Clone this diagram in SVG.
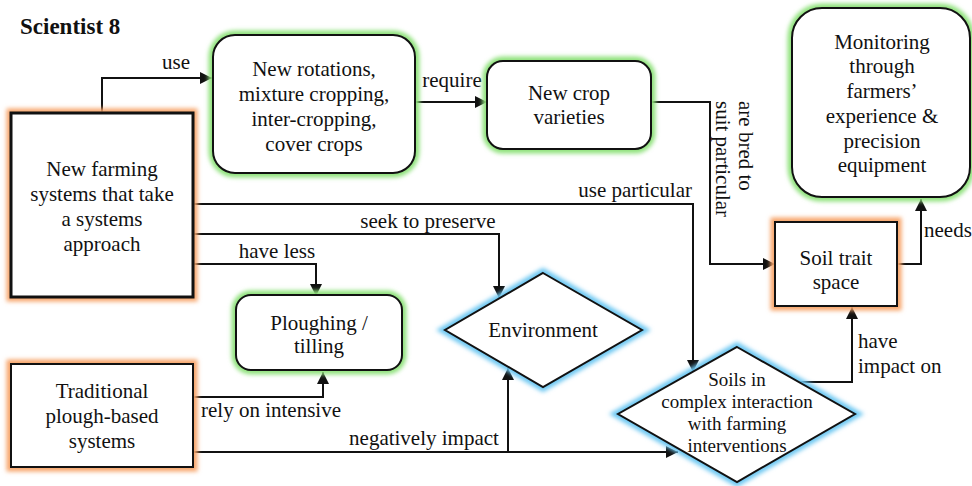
<svg xmlns="http://www.w3.org/2000/svg" width="972" height="486" viewBox="0 0 972 486">
<style>
.c{text-anchor:middle}
.s{font-size:19px}
.node{fill:#fff;stroke:#111;stroke-width:2}
.thick{stroke-width:3}
.go{fill:none;stroke:#f7a56b;stroke-width:9;filter:url(#blur)}
.gg{fill:none;stroke:#8fe27c;stroke-width:9;filter:url(#blur)}
.gb{fill:none;stroke:#6ec8f2;stroke-width:9;filter:url(#blur)}
.e{fill:none;stroke:#111;stroke-width:2}
</style>
<defs>
<filter id="blur" x="-20%" y="-20%" width="140%" height="140%"><feGaussianBlur stdDeviation="2.2"/></filter>
<marker id="a" viewBox="0 0 10 10" refX="10" refY="5" markerWidth="12" markerHeight="12" markerUnits="userSpaceOnUse" orient="auto"><path d="M0,0L10,5L0,10z" fill="#111"/></marker>
</defs>
<rect width="972" height="486" fill="#fff"/>
<g font-family="'Liberation Serif', 'Times New Roman', serif" font-size="21" fill="#111">
<text x="20" y="34" font-weight="bold" font-size="23">Scientist 8</text>

<g id="connectors">
<path class="e" d="M102,113V78H212" marker-end="url(#a)"/>
<text x="176" y="69" class="c">use</text>
<path class="e" d="M415,102H487" marker-end="url(#a)"/>
<text x="452" y="87" class="c">require</text>
<path class="e" d="M651,102H710V264H775" marker-end="url(#a)"/>
<text transform="translate(739,101) rotate(90)">are bred to</text>
<text transform="translate(716,101) rotate(90)">suit particular</text>
<path class="e" d="M897,264H921V199" marker-end="url(#a)"/>
<text x="924" y="237">needs</text>
<path class="e" d="M193,204H693V372" marker-end="url(#a)"/>
<text x="692" y="197" text-anchor="end">use particular</text>
<path class="e" d="M193,234H499V298" marker-end="url(#a)"/>
<text x="428" y="228" class="c">seek to preserve</text>
<path class="e" d="M193,264H316V296" marker-end="url(#a)"/>
<text x="277" y="258" class="c">have less</text>
<path class="e" d="M193,397H323V372" marker-end="url(#a)"/>
<text x="271" y="417" class="c">rely on intensive</text>
<path class="e" d="M193,452H678" marker-end="url(#a)"/>
<path class="e" d="M508,452V368" marker-end="url(#a)"/>
<text x="424" y="445" class="c">negatively impact</text>
<path class="e" d="M800,382H852V307" marker-end="url(#a)"/>
<text x="858" y="348">have</text>
<text x="858" y="373">impact on</text>
</g>

<g id="n-farming">
<rect class="go" x="11" y="113" width="182" height="184"/>
<rect class="node thick" x="11" y="113" width="182" height="184"/>
<text x="102" y="176" class="c">New farming</text>
<text x="102" y="201" class="c">systems that take</text>
<text x="102" y="226" class="c">a systems</text>
<text x="102" y="251" class="c">approach</text>
</g>

<g id="n-rotations">
<rect class="gg" x="213" y="35" width="202" height="138" rx="22"/>
<rect class="node" x="213" y="35" width="202" height="138" rx="22"/>
<text x="314" y="76" class="c">New rotations,</text>
<text x="314" y="101" class="c">mixture cropping,</text>
<text x="314" y="126" class="c">inter-cropping,</text>
<text x="314" y="151" class="c">cover crops</text>
</g>

<g id="n-varieties">
<rect class="gg" x="487" y="61" width="164" height="88" rx="16"/>
<rect class="node" x="487" y="61" width="164" height="88" rx="16"/>
<text x="569" y="100" class="c">New crop</text>
<text x="569" y="124" class="c">varieties</text>
</g>

<g id="n-monitoring">
<rect class="gg" x="792" y="8" width="178" height="189" rx="30"/>
<rect class="node" x="792" y="8" width="178" height="189" rx="30"/>
<text x="882" y="49" class="c">Monitoring</text>
<text x="882" y="73" class="c">through</text>
<text x="882" y="98" class="c">farmers’</text>
<text x="882" y="123" class="c">experience &amp;</text>
<text x="882" y="148" class="c">precision</text>
<text x="882" y="172" class="c">equipment</text>
</g>

<g id="n-soiltrait">
<rect class="go" x="775" y="222" width="122" height="84"/>
<rect class="node" x="775" y="222" width="122" height="84"/>
<text x="836" y="265" class="c">Soil trait</text>
<text x="836" y="289" class="c">space</text>
</g>

<g id="n-ploughing">
<rect class="gg" x="236" y="295" width="166" height="75" rx="15"/>
<rect class="node" x="236" y="295" width="166" height="75" rx="15"/>
<text x="319" y="330" class="c">Ploughing /</text>
<text x="319" y="353" class="c">tilling</text>
</g>

<g id="n-traditional">
<rect class="go" x="11" y="364" width="182" height="103"/>
<rect class="node" x="11" y="364" width="182" height="103"/>
<text x="102" y="398" class="c">Traditional</text>
<text x="102" y="423" class="c">plough-based</text>
<text x="102" y="448" class="c">systems</text>
</g>

<g id="n-environment">
<path class="gb" d="M543,273L642,330L543,387L445,330z"/>
<path class="node" d="M543,273L642,330L543,387L445,330z"/>
<text x="543" y="337" class="c">Environment</text>
</g>

<g id="n-soils">
<path class="gb" d="M737,347L855,414L737,482L618,414z"/>
<path class="node" d="M737,347L855,414L737,482L618,414z"/>
<text x="737" y="386" class="c s">Soils in</text>
<text x="737" y="408" class="c s">complex interaction</text>
<text x="737" y="430" class="c s">with farming</text>
<text x="737" y="452" class="c s">interventions</text>
</g>
</g>
</svg>
